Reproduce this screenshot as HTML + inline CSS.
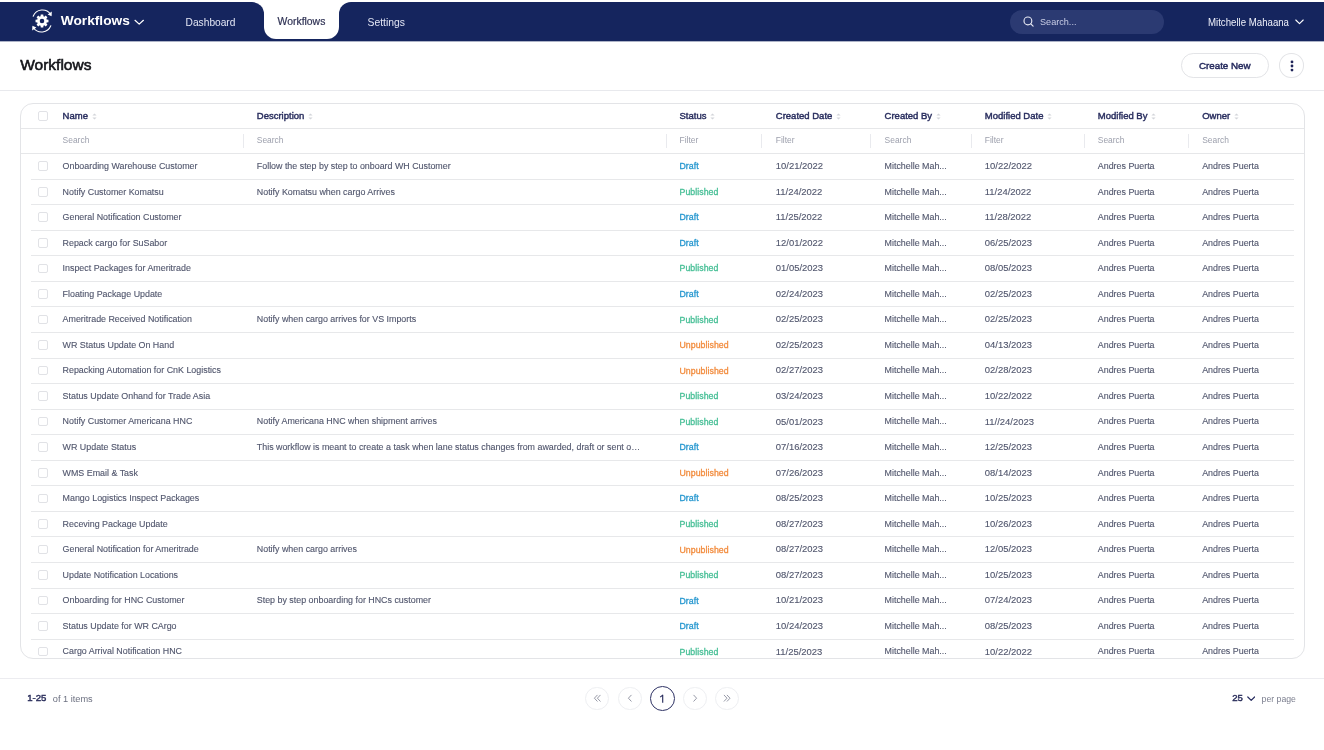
<!DOCTYPE html>
<html><head><meta charset="utf-8"><title>Workflows</title>
<style>
*{box-sizing:border-box;margin:0;padding:0}
html,body{width:1324px;height:750px;overflow:hidden;background:#fff;font-family:"Liberation Sans",sans-serif;}
body{will-change:transform}
.a{position:absolute;white-space:nowrap}
.nav{position:absolute;left:0;top:2px;width:1324px;height:39px;background:#15255E}
.navl{position:absolute;left:0;top:2px;width:264px;height:39px;background:#15255E;border-top-right-radius:12px}
.navr{position:absolute;left:338.5px;top:2px;width:986px;height:39px;background:#15255E;border-top-left-radius:12px}
.tab{position:absolute;left:263.6px;top:0;width:75px;height:38.7px;background:#fff;border-radius:0 0 12px 12px}
.tw{color:#fff;line-height:1}
.card{position:absolute;left:19.5px;top:103.4px;width:1285px;height:555.2px;border:1px solid #e3e4e7;border-radius:13px;overflow:hidden}
.hr{position:absolute;left:0;width:100%;height:1px;background:#e6e7e9}
.th{position:absolute;font-size:9.5px;color:#282d5e;line-height:1;-webkit-text-stroke:0.42px #282d5e}
.srt{position:absolute}
.ph{position:absolute;font-size:8.45px;color:#9da0ad;line-height:1}
.vd{position:absolute;width:1px;height:13.5px;background:#e9eaee}
.row{position:absolute;left:0;width:100%;height:25.55px}
.sep{position:absolute;left:10.8px;right:10px;height:1px;background:#e7e8ea;top:0}
.cb{position:absolute;left:17.9px;width:9.6px;height:9.6px;border:1px solid #e1e2e6;border-radius:2px;background:#fff}
.td{position:absolute;font-size:8.9px;color:#51566d;line-height:1;-webkit-text-stroke:0.12px #51566d}
.dt{font-size:9.45px;top:7.9px!important}
.st{position:absolute;font-size:8.75px;letter-spacing:0.05px;line-height:1;-webkit-text-stroke:0.3px currentColor}
.Draft{color:#2697cf}.Published{color:#47bf96}.Unpublished{color:#f28c3e}
</style></head><body>

<div class="navl"></div><div class="navr"></div><div class="nav" style="left:264px;width:74.5px"></div><div class="tab"></div><div class="a" style="left:0;top:41px;width:1324px;height:1px;background:rgba(21,37,94,.35)"></div>
<svg class="a" style="left:31px;top:8.5px" width="22" height="24" viewBox="0 0 22 24">
<g fill="none" stroke="#fff" stroke-width="1.1" stroke-linecap="round">
<path d="M2.2 7.2 A10 10 0 0 1 19.6 5.2"/>
<path d="M19.8 16.8 A10 10 0 0 1 2.4 18.8"/>
</g>
<path d="M20.8 2.6 L20.6 7.2 L16.6 5.6Z" fill="#fff"/>
<path d="M1.2 21.4 L1.4 16.8 L5.4 18.4Z" fill="#fff"/>
<g transform="translate(11 12)">
<path fill="#fff" fill-rule="evenodd" d="M4.68 -1.45 L6.48 -1.25 L6.48 1.25 L4.68 1.45 L4.33 2.29 L5.46 3.70 L3.70 5.46 L2.29 4.33 L1.45 4.68 L1.25 6.48 L-1.25 6.48 L-1.45 4.68 L-2.29 4.33 L-3.70 5.46 L-5.46 3.70 L-4.33 2.29 L-4.68 1.45 L-6.48 1.25 L-6.48 -1.25 L-4.68 -1.45 L-4.33 -2.29 L-5.46 -3.70 L-3.70 -5.46 L-2.29 -4.33 L-1.45 -4.68 L-1.25 -6.48 L1.25 -6.48 L1.45 -4.68 L2.29 -4.33 L3.70 -5.46 L5.46 -3.70 L4.33 -2.29Z M2.30 0.00 A2.30 2.30 0 1 0 -2.30 0.00 A2.30 2.30 0 1 0 2.30 0.00 Z"/>
</g>
</svg>
<div class="a tw" style="left:60.8px;top:14.0px;font-size:13.7px;font-weight:bold">Workflows</div>
<svg class="a" style="left:133.5px;top:18.8px" width="11" height="7" viewBox="0 0 11 7"><path d="M1 1.3 L5.2 5.1 L9.4 1.3" fill="none" stroke="#fff" stroke-width="1.25" stroke-linecap="round" stroke-linejoin="round"/></svg>
<div class="a" style="left:185.6px;top:17.8px;font-size:10.2px;color:#e3e6f4;line-height:1">Dashboard</div>
<div class="a" style="left:277.6px;top:17.1px;font-size:10.4px;color:#2f3254;line-height:1;-webkit-text-stroke:0.2px #2f3254">Workflows</div>
<div class="a" style="left:367.6px;top:17.8px;font-size:10.35px;color:#e3e6f4;line-height:1">Settings</div>
<div class="a" style="left:1010.2px;top:10.1px;width:154px;height:24px;border-radius:12px;background:#2b3a72"></div>
<svg class="a" style="left:1022.5px;top:16.3px" width="12" height="12" viewBox="0 0 12 12"><circle cx="4.9" cy="4.9" r="3.9" fill="none" stroke="#e6e8f2" stroke-width="1.15"/><path d="M7.8 7.8 L10.1 10.1" stroke="#e6e8f2" stroke-width="1.2" stroke-linecap="round"/></svg>
<div class="a" style="left:1040.4px;top:17.2px;font-size:9.8px;color:#c9cee6;line-height:1;transform:scaleX(0.93);transform-origin:0 0">Search...</div>
<div class="a" style="left:1208px;top:17.5px;font-size:10.2px;color:#eef0fa;line-height:1;transform:scaleX(0.947);transform-origin:0 0">Mitchelle Mahaana</div>
<svg class="a" style="left:1295.3px;top:18.6px" width="9" height="6" viewBox="0 0 9 6"><path d="M0.8 1 L4.5 4.6 L8.2 1" fill="none" stroke="#fff" stroke-width="1.1" stroke-linecap="round" stroke-linejoin="round"/></svg>
<div class="a" style="left:20.2px;top:57.3px;font-size:15.5px;color:#14151a;line-height:1;-webkit-text-stroke:0.6px #14151a">Workflows</div>
<div class="a" style="left:1181.2px;top:53.2px;width:87.5px;height:24.4px;border:1px solid #e3e4e7;border-radius:12.2px"></div>
<div class="a" style="left:1198.9px;top:60.7px;font-size:9.8px;color:#262b5e;line-height:1;-webkit-text-stroke:0.45px #262b5e">Create New</div>
<div class="a" style="left:1279.4px;top:53.2px;width:24.5px;height:24.4px;border:1px solid #e3e4e7;border-radius:50%"></div>
<svg class="a" style="left:1289.6px;top:59.6px" width="4" height="12" viewBox="0 0 4 12"><circle cx="2" cy="1.9" r="1.4" fill="#1f2458"/><circle cx="2" cy="6" r="1.4" fill="#1f2458"/><circle cx="2" cy="10.1" r="1.4" fill="#1f2458"/></svg>
<div class="a" style="left:0;top:89.6px;width:1324px;height:1px;background:#e8e9ed"></div>
<div class="card">
<div class="cb" style="top:6.80px"></div>
<div class="th" style="left:42.10px;top:6.90px">Name<svg width="5" height="7" viewBox="0 0 5 7" style="margin-left:3.6px;vertical-align:-0.5px"><path d="M2.5 0.4L4.6 2.6H0.4Z M2.5 6.6L4.6 4.4H0.4Z" fill="#d3d5da"/></svg></div>
<div class="th" style="left:236.30px;top:6.90px">Description<svg width="5" height="7" viewBox="0 0 5 7" style="margin-left:3.6px;vertical-align:-0.5px"><path d="M2.5 0.4L4.6 2.6H0.4Z M2.5 6.6L4.6 4.4H0.4Z" fill="#d3d5da"/></svg></div>
<div class="th" style="left:659.00px;top:6.90px">Status<svg width="5" height="7" viewBox="0 0 5 7" style="margin-left:3.6px;vertical-align:-0.5px"><path d="M2.5 0.4L4.6 2.6H0.4Z M2.5 6.6L4.6 4.4H0.4Z" fill="#d3d5da"/></svg></div>
<div class="th" style="left:755.30px;top:6.90px">Created Date<svg width="5" height="7" viewBox="0 0 5 7" style="margin-left:3.6px;vertical-align:-0.5px"><path d="M2.5 0.4L4.6 2.6H0.4Z M2.5 6.6L4.6 4.4H0.4Z" fill="#d3d5da"/></svg></div>
<div class="th" style="left:864.10px;top:6.90px">Created By<svg width="5" height="7" viewBox="0 0 5 7" style="margin-left:3.6px;vertical-align:-0.5px"><path d="M2.5 0.4L4.6 2.6H0.4Z M2.5 6.6L4.6 4.4H0.4Z" fill="#d3d5da"/></svg></div>
<div class="th" style="left:964.30px;top:6.90px">Modified Date<svg width="5" height="7" viewBox="0 0 5 7" style="margin-left:3.6px;vertical-align:-0.5px"><path d="M2.5 0.4L4.6 2.6H0.4Z M2.5 6.6L4.6 4.4H0.4Z" fill="#d3d5da"/></svg></div>
<div class="th" style="left:1077.30px;top:6.90px">Modified By<svg width="5" height="7" viewBox="0 0 5 7" style="margin-left:3.6px;vertical-align:-0.5px"><path d="M2.5 0.4L4.6 2.6H0.4Z M2.5 6.6L4.6 4.4H0.4Z" fill="#d3d5da"/></svg></div>
<div class="th" style="left:1181.70px;top:6.90px">Owner<svg width="5" height="7" viewBox="0 0 5 7" style="margin-left:3.6px;vertical-align:-0.5px"><path d="M2.5 0.4L4.6 2.6H0.4Z M2.5 6.6L4.6 4.4H0.4Z" fill="#d3d5da"/></svg></div>
<div class="hr" style="top:23.60px"></div>
<div class="ph" style="left:42.10px;top:32.10px">Search</div>
<div class="ph" style="left:236.30px;top:32.10px">Search</div>
<div class="ph" style="left:659.00px;top:32.10px">Filter</div>
<div class="ph" style="left:755.30px;top:32.10px">Filter</div>
<div class="ph" style="left:864.10px;top:32.10px">Search</div>
<div class="ph" style="left:964.30px;top:32.10px">Filter</div>
<div class="ph" style="left:1077.30px;top:32.10px">Search</div>
<div class="ph" style="left:1181.70px;top:32.10px">Search</div>
<div class="vd" style="left:222.30px;top:30.00px"></div>
<div class="vd" style="left:645.10px;top:30.00px"></div>
<div class="vd" style="left:740.90px;top:30.00px"></div>
<div class="vd" style="left:849.80px;top:30.00px"></div>
<div class="vd" style="left:950.00px;top:30.00px"></div>
<div class="vd" style="left:1063.30px;top:30.00px"></div>
<div class="vd" style="left:1167.80px;top:30.00px"></div>
<div class="hr" style="top:48.40px"></div>
<div class="row" style="top:48.80px">
<div class="cb" style="top:8.2px"></div>
<div class="td" style="left:42.10px;top:8.80px">Onboarding Warehouse Customer</div>
<div class="td" style="left:236.30px;top:8.80px">Follow the step by step to onboard WH Customer</div>
<div class="st Draft" style="left:659.00px;top:9.10px">Draft</div>
<div class="td dt" style="left:755.30px;top:8.80px">10/21/2022</div>
<div class="td" style="left:864.10px;top:8.80px">Mitchelle Mah...</div>
<div class="td dt" style="left:964.30px;top:8.80px">10/22/2022</div>
<div class="td" style="left:1077.30px;top:8.80px">Andres Puerta</div>
<div class="td" style="left:1181.70px;top:8.80px">Andres Puerta</div>
</div>
<div class="row" style="top:74.35px">
<div class="sep"></div>
<div class="cb" style="top:8.2px"></div>
<div class="td" style="left:42.10px;top:8.80px">Notify Customer Komatsu</div>
<div class="td" style="left:236.30px;top:8.80px">Notify Komatsu when cargo Arrives</div>
<div class="st Published" style="left:659.00px;top:9.10px">Published</div>
<div class="td dt" style="left:755.30px;top:8.80px">11/24/2022</div>
<div class="td" style="left:864.10px;top:8.80px">Mitchelle Mah...</div>
<div class="td dt" style="left:964.30px;top:8.80px">11/24/2022</div>
<div class="td" style="left:1077.30px;top:8.80px">Andres Puerta</div>
<div class="td" style="left:1181.70px;top:8.80px">Andres Puerta</div>
</div>
<div class="row" style="top:99.90px">
<div class="sep"></div>
<div class="cb" style="top:8.2px"></div>
<div class="td" style="left:42.10px;top:8.80px">General Notification Customer</div>
<div class="st Draft" style="left:659.00px;top:9.10px">Draft</div>
<div class="td dt" style="left:755.30px;top:8.80px">11/25/2022</div>
<div class="td" style="left:864.10px;top:8.80px">Mitchelle Mah...</div>
<div class="td dt" style="left:964.30px;top:8.80px">11/28/2022</div>
<div class="td" style="left:1077.30px;top:8.80px">Andres Puerta</div>
<div class="td" style="left:1181.70px;top:8.80px">Andres Puerta</div>
</div>
<div class="row" style="top:125.45px">
<div class="sep"></div>
<div class="cb" style="top:8.2px"></div>
<div class="td" style="left:42.10px;top:8.80px">Repack cargo for SuSabor</div>
<div class="st Draft" style="left:659.00px;top:9.10px">Draft</div>
<div class="td dt" style="left:755.30px;top:8.80px">12/01/2022</div>
<div class="td" style="left:864.10px;top:8.80px">Mitchelle Mah...</div>
<div class="td dt" style="left:964.30px;top:8.80px">06/25/2023</div>
<div class="td" style="left:1077.30px;top:8.80px">Andres Puerta</div>
<div class="td" style="left:1181.70px;top:8.80px">Andres Puerta</div>
</div>
<div class="row" style="top:151.00px">
<div class="sep"></div>
<div class="cb" style="top:8.2px"></div>
<div class="td" style="left:42.10px;top:8.80px">Inspect Packages for Ameritrade</div>
<div class="st Published" style="left:659.00px;top:9.10px">Published</div>
<div class="td dt" style="left:755.30px;top:8.80px">01/05/2023</div>
<div class="td" style="left:864.10px;top:8.80px">Mitchelle Mah...</div>
<div class="td dt" style="left:964.30px;top:8.80px">08/05/2023</div>
<div class="td" style="left:1077.30px;top:8.80px">Andres Puerta</div>
<div class="td" style="left:1181.70px;top:8.80px">Andres Puerta</div>
</div>
<div class="row" style="top:176.55px">
<div class="sep"></div>
<div class="cb" style="top:8.2px"></div>
<div class="td" style="left:42.10px;top:8.80px">Floating Package Update</div>
<div class="st Draft" style="left:659.00px;top:9.10px">Draft</div>
<div class="td dt" style="left:755.30px;top:8.80px">02/24/2023</div>
<div class="td" style="left:864.10px;top:8.80px">Mitchelle Mah...</div>
<div class="td dt" style="left:964.30px;top:8.80px">02/25/2023</div>
<div class="td" style="left:1077.30px;top:8.80px">Andres Puerta</div>
<div class="td" style="left:1181.70px;top:8.80px">Andres Puerta</div>
</div>
<div class="row" style="top:202.10px">
<div class="sep"></div>
<div class="cb" style="top:8.2px"></div>
<div class="td" style="left:42.10px;top:8.80px">Ameritrade Received Notification</div>
<div class="td" style="left:236.30px;top:8.80px">Notify when cargo arrives for VS Imports</div>
<div class="st Published" style="left:659.00px;top:9.10px">Published</div>
<div class="td dt" style="left:755.30px;top:8.80px">02/25/2023</div>
<div class="td" style="left:864.10px;top:8.80px">Mitchelle Mah...</div>
<div class="td dt" style="left:964.30px;top:8.80px">02/25/2023</div>
<div class="td" style="left:1077.30px;top:8.80px">Andres Puerta</div>
<div class="td" style="left:1181.70px;top:8.80px">Andres Puerta</div>
</div>
<div class="row" style="top:227.65px">
<div class="sep"></div>
<div class="cb" style="top:8.2px"></div>
<div class="td" style="left:42.10px;top:8.80px">WR Status Update On Hand</div>
<div class="st Unpublished" style="left:659.00px;top:9.10px">Unpublished</div>
<div class="td dt" style="left:755.30px;top:8.80px">02/25/2023</div>
<div class="td" style="left:864.10px;top:8.80px">Mitchelle Mah...</div>
<div class="td dt" style="left:964.30px;top:8.80px">04/13/2023</div>
<div class="td" style="left:1077.30px;top:8.80px">Andres Puerta</div>
<div class="td" style="left:1181.70px;top:8.80px">Andres Puerta</div>
</div>
<div class="row" style="top:253.20px">
<div class="sep"></div>
<div class="cb" style="top:8.2px"></div>
<div class="td" style="left:42.10px;top:8.80px">Repacking Automation for CnK Logistics</div>
<div class="st Unpublished" style="left:659.00px;top:9.10px">Unpublished</div>
<div class="td dt" style="left:755.30px;top:8.80px">02/27/2023</div>
<div class="td" style="left:864.10px;top:8.80px">Mitchelle Mah...</div>
<div class="td dt" style="left:964.30px;top:8.80px">02/28/2023</div>
<div class="td" style="left:1077.30px;top:8.80px">Andres Puerta</div>
<div class="td" style="left:1181.70px;top:8.80px">Andres Puerta</div>
</div>
<div class="row" style="top:278.75px">
<div class="sep"></div>
<div class="cb" style="top:8.2px"></div>
<div class="td" style="left:42.10px;top:8.80px">Status Update Onhand for Trade Asia</div>
<div class="st Published" style="left:659.00px;top:9.10px">Published</div>
<div class="td dt" style="left:755.30px;top:8.80px">03/24/2023</div>
<div class="td" style="left:864.10px;top:8.80px">Mitchelle Mah...</div>
<div class="td dt" style="left:964.30px;top:8.80px">10/22/2022</div>
<div class="td" style="left:1077.30px;top:8.80px">Andres Puerta</div>
<div class="td" style="left:1181.70px;top:8.80px">Andres Puerta</div>
</div>
<div class="row" style="top:304.30px">
<div class="sep"></div>
<div class="cb" style="top:8.2px"></div>
<div class="td" style="left:42.10px;top:8.80px">Notify Customer Americana HNC</div>
<div class="td" style="left:236.30px;top:8.80px">Notify Americana HNC when shipment arrives</div>
<div class="st Published" style="left:659.00px;top:9.10px">Published</div>
<div class="td dt" style="left:755.30px;top:8.80px">05/01/2023</div>
<div class="td" style="left:864.10px;top:8.80px">Mitchelle Mah...</div>
<div class="td dt" style="left:964.30px;top:8.80px">11//24/2023</div>
<div class="td" style="left:1077.30px;top:8.80px">Andres Puerta</div>
<div class="td" style="left:1181.70px;top:8.80px">Andres Puerta</div>
</div>
<div class="row" style="top:329.85px">
<div class="sep"></div>
<div class="cb" style="top:8.2px"></div>
<div class="td" style="left:42.10px;top:8.80px">WR Update Status</div>
<div class="td" style="left:236.30px;top:8.80px">This workflow is meant to create a task when lane status changes from awarded, draft or sent o…</div>
<div class="st Draft" style="left:659.00px;top:9.10px">Draft</div>
<div class="td dt" style="left:755.30px;top:8.80px">07/16/2023</div>
<div class="td" style="left:864.10px;top:8.80px">Mitchelle Mah...</div>
<div class="td dt" style="left:964.30px;top:8.80px">12/25/2023</div>
<div class="td" style="left:1077.30px;top:8.80px">Andres Puerta</div>
<div class="td" style="left:1181.70px;top:8.80px">Andres Puerta</div>
</div>
<div class="row" style="top:355.40px">
<div class="sep"></div>
<div class="cb" style="top:8.2px"></div>
<div class="td" style="left:42.10px;top:8.80px">WMS Email &amp; Task</div>
<div class="st Unpublished" style="left:659.00px;top:9.10px">Unpublished</div>
<div class="td dt" style="left:755.30px;top:8.80px">07/26/2023</div>
<div class="td" style="left:864.10px;top:8.80px">Mitchelle Mah...</div>
<div class="td dt" style="left:964.30px;top:8.80px">08/14/2023</div>
<div class="td" style="left:1077.30px;top:8.80px">Andres Puerta</div>
<div class="td" style="left:1181.70px;top:8.80px">Andres Puerta</div>
</div>
<div class="row" style="top:380.95px">
<div class="sep"></div>
<div class="cb" style="top:8.2px"></div>
<div class="td" style="left:42.10px;top:8.80px">Mango Logistics Inspect Packages</div>
<div class="st Draft" style="left:659.00px;top:9.10px">Draft</div>
<div class="td dt" style="left:755.30px;top:8.80px">08/25/2023</div>
<div class="td" style="left:864.10px;top:8.80px">Mitchelle Mah...</div>
<div class="td dt" style="left:964.30px;top:8.80px">10/25/2023</div>
<div class="td" style="left:1077.30px;top:8.80px">Andres Puerta</div>
<div class="td" style="left:1181.70px;top:8.80px">Andres Puerta</div>
</div>
<div class="row" style="top:406.50px">
<div class="sep"></div>
<div class="cb" style="top:8.2px"></div>
<div class="td" style="left:42.10px;top:8.80px">Receving Package Update</div>
<div class="st Published" style="left:659.00px;top:9.10px">Published</div>
<div class="td dt" style="left:755.30px;top:8.80px">08/27/2023</div>
<div class="td" style="left:864.10px;top:8.80px">Mitchelle Mah...</div>
<div class="td dt" style="left:964.30px;top:8.80px">10/26/2023</div>
<div class="td" style="left:1077.30px;top:8.80px">Andres Puerta</div>
<div class="td" style="left:1181.70px;top:8.80px">Andres Puerta</div>
</div>
<div class="row" style="top:432.05px">
<div class="sep"></div>
<div class="cb" style="top:8.2px"></div>
<div class="td" style="left:42.10px;top:8.80px">General Notification for Ameritrade</div>
<div class="td" style="left:236.30px;top:8.80px">Notify when cargo arrives</div>
<div class="st Unpublished" style="left:659.00px;top:9.10px">Unpublished</div>
<div class="td dt" style="left:755.30px;top:8.80px">08/27/2023</div>
<div class="td" style="left:864.10px;top:8.80px">Mitchelle Mah...</div>
<div class="td dt" style="left:964.30px;top:8.80px">12/05/2023</div>
<div class="td" style="left:1077.30px;top:8.80px">Andres Puerta</div>
<div class="td" style="left:1181.70px;top:8.80px">Andres Puerta</div>
</div>
<div class="row" style="top:457.60px">
<div class="sep"></div>
<div class="cb" style="top:8.2px"></div>
<div class="td" style="left:42.10px;top:8.80px">Update Notification Locations</div>
<div class="st Published" style="left:659.00px;top:9.10px">Published</div>
<div class="td dt" style="left:755.30px;top:8.80px">08/27/2023</div>
<div class="td" style="left:864.10px;top:8.80px">Mitchelle Mah...</div>
<div class="td dt" style="left:964.30px;top:8.80px">10/25/2023</div>
<div class="td" style="left:1077.30px;top:8.80px">Andres Puerta</div>
<div class="td" style="left:1181.70px;top:8.80px">Andres Puerta</div>
</div>
<div class="row" style="top:483.15px">
<div class="sep"></div>
<div class="cb" style="top:8.2px"></div>
<div class="td" style="left:42.10px;top:8.80px">Onboarding for HNC Customer</div>
<div class="td" style="left:236.30px;top:8.80px">Step by step onboarding for HNCs customer</div>
<div class="st Draft" style="left:659.00px;top:9.10px">Draft</div>
<div class="td dt" style="left:755.30px;top:8.80px">10/21/2023</div>
<div class="td" style="left:864.10px;top:8.80px">Mitchelle Mah...</div>
<div class="td dt" style="left:964.30px;top:8.80px">07/24/2023</div>
<div class="td" style="left:1077.30px;top:8.80px">Andres Puerta</div>
<div class="td" style="left:1181.70px;top:8.80px">Andres Puerta</div>
</div>
<div class="row" style="top:508.70px">
<div class="sep"></div>
<div class="cb" style="top:8.2px"></div>
<div class="td" style="left:42.10px;top:8.80px">Status Update for WR CArgo</div>
<div class="st Draft" style="left:659.00px;top:9.10px">Draft</div>
<div class="td dt" style="left:755.30px;top:8.80px">10/24/2023</div>
<div class="td" style="left:864.10px;top:8.80px">Mitchelle Mah...</div>
<div class="td dt" style="left:964.30px;top:8.80px">08/25/2023</div>
<div class="td" style="left:1077.30px;top:8.80px">Andres Puerta</div>
<div class="td" style="left:1181.70px;top:8.80px">Andres Puerta</div>
</div>
<div class="row" style="top:534.25px">
<div class="sep"></div>
<div class="cb" style="top:8.2px"></div>
<div class="td" style="left:42.10px;top:8.80px">Cargo Arrival Notification HNC</div>
<div class="st Published" style="left:659.00px;top:9.10px">Published</div>
<div class="td dt" style="left:755.30px;top:8.80px">11/25/2023</div>
<div class="td" style="left:864.10px;top:8.80px">Mitchelle Mah...</div>
<div class="td dt" style="left:964.30px;top:8.80px">10/22/2022</div>
<div class="td" style="left:1077.30px;top:8.80px">Andres Puerta</div>
<div class="td" style="left:1181.70px;top:8.80px">Andres Puerta</div>
</div>
</div>
<div class="a" style="left:0;top:678.4px;width:1324px;height:1px;background:#ececf0"></div>
<div class="a" style="left:27.2px;top:693.3px;font-size:9.6px;color:#2b2f5c;line-height:1;-webkit-text-stroke:0.45px #2b2f5c">1-25</div>
<div class="a" style="left:52.8px;top:695.2px;font-size:9.2px;color:#6c7080;line-height:1">of 1 items</div>
<div class="a" style="left:585.10px;top:686.70px;width:23.6px;height:23.6px;border:1px solid #eeeff2;border-radius:50%"></div>
<svg class="a" style="left:592.65px;top:694.30px" width="8.5" height="8.5" viewBox="0 0 8.5 8.5"><path d="M4.2 1.2 L1.4 4.2 L4.2 7.2 M7.2 1.2 L4.4 4.2 L7.2 7.2" fill="none" stroke="#8a8d9c" stroke-width="0.9" stroke-linecap="round" stroke-linejoin="round"/></svg>
<div class="a" style="left:618.20px;top:686.70px;width:23.6px;height:23.6px;border:1px solid #eeeff2;border-radius:50%"></div>
<svg class="a" style="left:625.75px;top:694.30px" width="8.5" height="8.5" viewBox="0 0 8.5 8.5"><path d="M5.2 1.2 L2.4 4.2 L5.2 7.2" fill="none" stroke="#8a8d9c" stroke-width="0.9" stroke-linecap="round" stroke-linejoin="round"/></svg>
<div class="a" style="left:649.80px;top:685.90px;width:24.8px;height:24.8px;border:1.3px solid #2e3264;border-radius:50%"></div>
<svg class="a" style="left:658px;top:693px" width="8" height="12" viewBox="0 0 8 12"><path d="M2.2 4.1 L4.7 2.1 L4.7 9.8" fill="none" stroke="#2a2e5e" stroke-width="1.15" stroke-linejoin="round"/></svg>
<div class="a" style="left:683.00px;top:686.70px;width:23.6px;height:23.6px;border:1px solid #eeeff2;border-radius:50%"></div>
<svg class="a" style="left:690.55px;top:694.30px" width="8.5" height="8.5" viewBox="0 0 8.5 8.5"><path d="M2.8 1.2 L5.6 4.2 L2.8 7.2" fill="none" stroke="#8a8d9c" stroke-width="0.9" stroke-linecap="round" stroke-linejoin="round"/></svg>
<div class="a" style="left:715.20px;top:686.70px;width:23.6px;height:23.6px;border:1px solid #eeeff2;border-radius:50%"></div>
<svg class="a" style="left:722.75px;top:694.30px" width="8.5" height="8.5" viewBox="0 0 8.5 8.5"><path d="M1.2 1.2 L4 4.2 L1.2 7.2 M4.2 1.2 L7 4.2 L4.2 7.2" fill="none" stroke="#8a8d9c" stroke-width="0.9" stroke-linecap="round" stroke-linejoin="round"/></svg>
<div class="a" style="left:1232.2px;top:693.3px;font-size:9.6px;color:#2b2f5c;line-height:1;-webkit-text-stroke:0.45px #2b2f5c">25</div>
<svg class="a" style="left:1246.8px;top:695.9px" width="8.5" height="6" viewBox="0 0 8.5 6"><path d="M0.8 1 L4.2 4.4 L7.6 1" fill="none" stroke="#262b5e" stroke-width="1.2" stroke-linecap="round" stroke-linejoin="round"/></svg>
<div class="a" style="left:1261.6px;top:694.9px;font-size:8.7px;color:#7c7f8f;line-height:1">per page</div>
</body></html>
